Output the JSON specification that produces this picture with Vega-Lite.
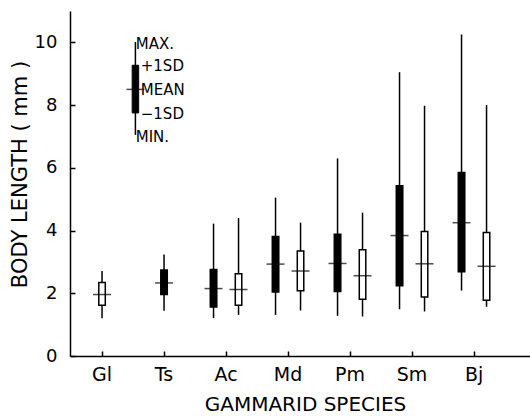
{
  "$schema": "https://vega.github.io/schema/vega-lite/v6.json",
  "autosize": {"type": "none"},
  "padding": {"left": 70, "top": 11, "right": 0, "bottom": 60},
  "width": 460,
  "height": 345,
  "background": "white",
  "config": {
    "view": {"stroke": null},
    "font": "DejaVu Sans",
    "axis": {
      "domainColor": "black",
      "domainWidth": 1.5,
      "tickColor": "black",
      "tickWidth": 1.5,
      "tickSize": -5,
      "grid": false,
      "labelColor": "black",
      "titleColor": "black",
      "labelFont": "DejaVu Sans",
      "titleFont": "DejaVu Sans",
      "titleFontWeight": "normal"
    }
  },
  "datasets": {
    "boxes": [
      {"species": "Gl", "pair": "single", "fill": "open", "min": 1.20, "lo": 1.62, "mean": 1.96, "hi": 2.34, "max": 2.71},
      {"species": "Ts", "pair": "single", "fill": "filled", "min": 1.44, "lo": 1.96, "mean": 2.33, "hi": 2.74, "max": 3.24},
      {"species": "Ac", "pair": "left", "fill": "filled", "min": 1.21, "lo": 1.56, "mean": 2.15, "hi": 2.76, "max": 4.22},
      {"species": "Ac", "pair": "right", "fill": "open", "min": 1.31, "lo": 1.62, "mean": 2.12, "hi": 2.62, "max": 4.40},
      {"species": "Md", "pair": "left", "fill": "filled", "min": 1.31, "lo": 2.04, "mean": 2.93, "hi": 3.81, "max": 5.05},
      {"species": "Md", "pair": "right", "fill": "open", "min": 1.45, "lo": 2.08, "mean": 2.71, "hi": 3.35, "max": 4.25},
      {"species": "Pm", "pair": "left", "fill": "filled", "min": 1.28, "lo": 2.06, "mean": 2.95, "hi": 3.88, "max": 6.30},
      {"species": "Pm", "pair": "right", "fill": "open", "min": 1.26, "lo": 1.81, "mean": 2.56, "hi": 3.39, "max": 4.57},
      {"species": "Sm", "pair": "left", "fill": "filled", "min": 1.49, "lo": 2.24, "mean": 3.84, "hi": 5.43, "max": 9.05},
      {"species": "Sm", "pair": "right", "fill": "open", "min": 1.42, "lo": 1.88, "mean": 2.94, "hi": 3.97, "max": 7.98},
      {"species": "Bj", "pair": "left", "fill": "filled", "min": 2.09, "lo": 2.69, "mean": 4.25, "hi": 5.85, "max": 10.25},
      {"species": "Bj", "pair": "right", "fill": "open", "min": 1.57, "lo": 1.78, "mean": 2.86, "hi": 3.94, "max": 8.00}
    ],
    "key": [
      {"where": 1.48, "min": 7.05, "lo": 7.75, "mean": 8.50, "hi": 9.27, "max": 10.01}
    ],
    "keyLabels": [
      {"where": 1.48, "label": "MAX.", "v": 10.01, "kind": "end"},
      {"where": 1.48, "label": "+1SD", "v": 9.27, "kind": "sd"},
      {"where": 1.48, "label": "MEAN", "v": 8.50, "kind": "mean"},
      {"where": 1.48, "label": "\u22121SD", "v": 7.75, "kind": "sd"},
      {"where": 1.48, "label": "MIN.", "v": 7.05, "kind": "end"}
    ]
  },
  "resolve": {"scale": {"x": "independent"}, "axis": {"x": "independent"}},
  "layer": [
    {
      "data": {"name": "boxes"},
      "encoding": {
        "x": {
          "field": "species",
          "type": "nominal",
          "sort": ["Gl", "Ts", "Ac", "Md", "Pm", "Sm", "Bj"],
          "scale": {"domain": ["Gl", "Ts", "Ac", "Md", "Pm", "Sm", "Bj"], "paddingInner": 0, "paddingOuter": 0.2097, "align": 0.04},
          "axis": {
            "title": "GAMMARID SPECIES",
            "labelAngle": 0,
            "labelFontSize": 19,
            "labelPadding": 14,
            "titleFontSize": 20,
            "titleX": 235,
            "titleY": 54,
            "titleBaseline": "alphabetic"
          }
        },
        "xOffset": {
          "field": "pair",
          "type": "nominal",
          "scale": {"type": "point", "domain": ["left", "single", "right"], "range": [18.5, 43.5], "padding": 0}
        },
        "y": {
          "field": "max",
          "type": "quantitative",
          "scale": {"domain": [0, 11], "nice": false, "zero": true},
          "axis": {
            "values": [0, 2, 4, 6, 8, 10],
            "title": "BODY LENGTH ( mm )",
            "labelFontSize": 18,
            "labelPadding": 18,
            "titleFontSize": 21,
            "titleX": -44,
            "titleY": 163,
            "titleBaseline": "alphabetic"
          }
        }
      },
      "layer": [
        {
          "mark": {"type": "rule", "color": "black", "strokeWidth": 1.5},
          "encoding": {"y": {"field": "min", "type": "quantitative"}, "y2": {"field": "max"}}
        },
        {
          "mark": {"type": "bar", "width": 6.5, "stroke": "black", "strokeWidth": 1.5},
          "encoding": {
            "y": {"field": "lo", "type": "quantitative"},
            "y2": {"field": "hi"},
            "color": {"field": "fill", "type": "nominal", "scale": {"domain": ["filled", "open"], "range": ["black", "white"]}, "legend": null}
          }
        },
        {
          "mark": {"type": "tick", "orient": "horizontal", "size": 18, "thickness": 1.5, "color": "black"},
          "encoding": {"y": {"field": "mean", "type": "quantitative"}}
        }
      ]
    },
    {
      "data": {"name": "key"},
      "encoding": {
        "x": {"field": "where", "type": "quantitative", "scale": {"domain": [0.484, 7.903], "nice": false, "zero": false}, "axis": null}
      },
      "layer": [
        {
          "mark": {"type": "rule", "color": "black", "strokeWidth": 1.5},
          "encoding": {"y": {"field": "min", "type": "quantitative"}, "y2": {"field": "max"}}
        },
        {
          "mark": {"type": "bar", "width": 6.5, "fill": "black", "stroke": "black", "strokeWidth": 1},
          "encoding": {"y": {"field": "lo", "type": "quantitative"}, "y2": {"field": "hi"}}
        },
        {
          "mark": {"type": "tick", "orient": "horizontal", "size": 18, "thickness": 1.5, "color": "black"},
          "encoding": {"y": {"field": "mean", "type": "quantitative"}}
        }
      ]
    },
    {
      "data": {"name": "keyLabels"},
      "encoding": {
        "x": {"field": "where", "type": "quantitative", "scale": {"domain": [0.484, 7.903], "nice": false, "zero": false}, "axis": null},
        "y": {"field": "v", "type": "quantitative"},
        "text": {"field": "label"}
      },
      "layer": [
        {
          "transform": [{"filter": "datum.kind === 'end'"}],
          "mark": {"type": "text", "align": "left", "baseline": "middle", "dx": 4, "dy": 2, "fontSize": 15, "color": "black"}
        },
        {
          "transform": [{"filter": "datum.kind !== 'end'"}],
          "mark": {"type": "text", "align": "left", "baseline": "middle", "dx": 9, "dy": 1, "fontSize": 15, "color": "black"}
        }
      ]
    }
  ]
}
